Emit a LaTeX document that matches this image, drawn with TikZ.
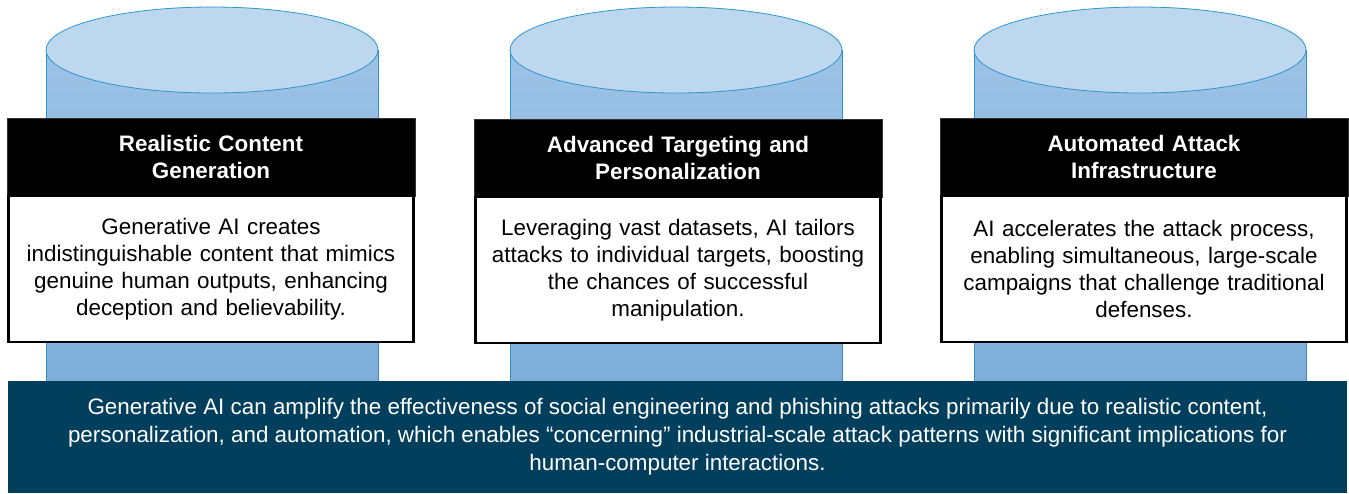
\documentclass[tikz,border=0pt]{standalone}
\usepackage{fontspec}
\setmainfont{Liberation Sans}
\usetikzlibrary{positioning}
\definecolor{cylTop}{HTML}{BDD7EE}
\definecolor{cylUp}{HTML}{9DC3E6}
\definecolor{cylLow}{HTML}{7DAFDA}
\definecolor{cylEdge}{HTML}{2E95CC}
\definecolor{barColor}{HTML}{023F5C}
\newcommand{\cardfont}[0]{%
      \fontsize{22.4}{27}\selectfont
    }

\begin{document}
\begin{tikzpicture}[x=1pt,y=-1pt,
      headbox/.style={shape=rectangle,fill=black,draw=black!80,text=white,font=\cardfont\bfseries,
        minimum width=408pt,minimum height=78pt,text width=400pt,align=center,inner sep=0pt,outer sep=0pt},
      textbox/.style={shape=rectangle,fill=white,draw=black,line width=2.4pt,font=\cardfont,
        minimum width=405pt,minimum height=146pt,text width=400pt,align=center,inner sep=0pt,outer sep=0pt}]
      \useasboundingbox (0,0) rectangle (1349,493);

      % cylinders behind the cards
      \foreach \cx in {212,676,1140} {
        \shade[top color=cylUp,bottom color=cylLow] (\cx-166,50) rectangle (\cx+166,385);
        \draw[cylEdge,line width=0.8pt] (\cx-166,50) -- (\cx-166,385);
        \draw[cylEdge,line width=0.8pt] (\cx+166,50) -- (\cx+166,385);
        \draw[cylEdge,fill=cylTop,line width=0.8pt] (\cx,50) ellipse [x radius=166,y radius=43];
      }

      \node[headbox] (H1) at (211,157) {Realistic Content\\Generation};
      \node[headbox] (H2) at (678,158) {Advanced Targeting and\\Personalization};
      \node[headbox] (H3) at (1144,157) {Automated Attack\\Infrastructure};

      \node[textbox,below=0pt of H1] (T1) {Generative AI creates\\indistinguishable content that mimics\\genuine human outputs, enhancing\\deception and believability.};
      \node[textbox,below=0pt of H2] (T2) {Leveraging vast datasets, AI tailors\\attacks to individual targets, boosting\\the chances of successful\\manipulation.};
      \node[textbox,below=0pt of H3] (T3) {AI accelerates the attack process,\\enabling simultaneous, large-scale\\campaigns that challenge traditional\\defenses.};

      \node[shape=rectangle,fill=barColor,text=white,minimum width=1339pt,minimum height=112pt,
        inner sep=0pt,align=center,font=\fontsize{22.4}{28}\selectfont] (S) at (677.5,437)
        {Generative AI can amplify the effectiveness of social engineering and phishing attacks primarily due to realistic content,\\
         personalization, and automation, which enables “concerning” industrial-scale attack patterns with significant implications for\\
         human-computer interactions.};
\end{tikzpicture}
\end{document}
